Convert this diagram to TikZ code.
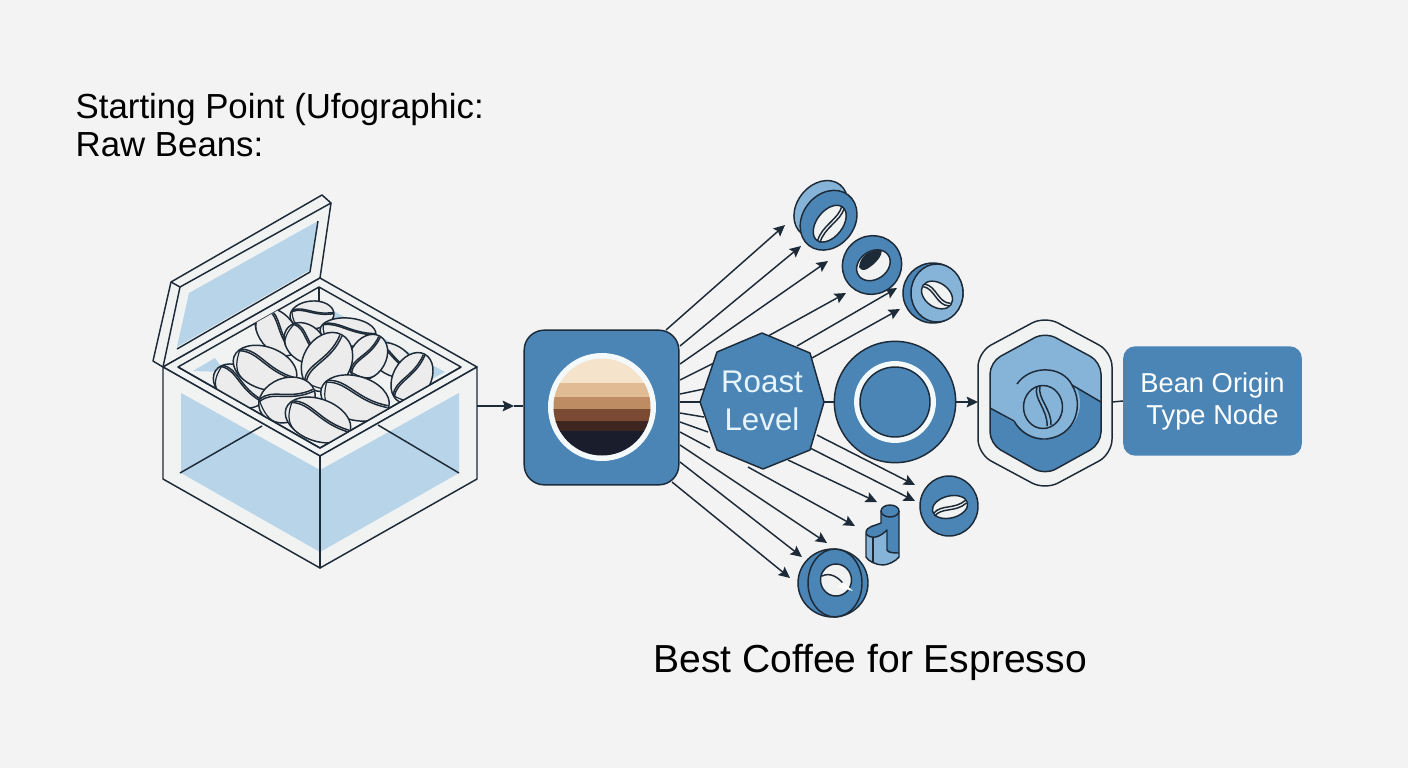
\documentclass[tikz,border=0pt]{standalone}
\usepackage{fontspec}
\setmainfont{Liberation Sans}
\usetikzlibrary{arrows.meta}
\definecolor{paper}{HTML}{F3F3F3}
\definecolor{ink}{HTML}{1D2A38}
\definecolor{nodeblue}{HTML}{4A85B6}
\definecolor{midblue}{HTML}{86B4D8}
\definecolor{paleblue}{HTML}{B7D4E8}
\definecolor{rim}{HTML}{F1F2F2}
\definecolor{beanfill}{HTML}{ECECEC}
\tikzset{
  flow/.style={draw=ink,line width=1.1pt,-{Stealth[length=8.5pt,width=8pt,inset=1.5pt]}},
  stub/.style={draw=ink,line width=1.1pt},
  edge/.style={draw=ink,line width=1.1pt,line join=round},
  bluebox/.style={draw=ink,line width=1.1pt,fill=nodeblue,rounded corners=15pt,minimum width=116pt,minimum height=116pt},
  labelbox/.style={fill=nodeblue,rounded corners=9pt,minimum width=134pt,minimum height=82pt,text=white,align=center,font=\fontsize{20.5}{24}\selectfont},
  heading/.style={anchor=west,text=black,align=left,font=\fontsize{26.1}{19}\selectfont},
}
% x y angle half-length half-width
\newcommand{\coffeebean}[5]{
\begin{scope}[shift={(#1,#2)},rotate=#3]
\draw [edge,fill=beanfill] (0,0) ellipse (#4 and #5);
\draw [edge] (-0.88*#4,-0.45*#5) .. controls (-0.35*#4,-0.75*#5) and (0.05*#4,0.05*#5) .. (0.96*#4,-0.05*#5);
\draw [edge] (-0.90*#4,-0.36*#5) .. controls (-0.35*#4,-0.64*#5) and (0.05*#4,0.14*#5) .. (0.97*#4,0.04*#5);
\draw [edge,line width=0.9pt] (-0.55*#4,0.83*#5) .. controls (-0.85*#4,0.6*#5) and (-0.9*#4,0.1*#5) .. (-0.9*#4,-0.4*#5);
\end{scope}
}
\begin{document}
\begin{tikzpicture}[x=0.75pt,y=0.75pt,yscale=-1,xscale=1]
\useasboundingbox (0,0) rectangle (1408,768);
\fill [paper] (0,0) rectangle (1408,768);
% titles
\node [heading] (title) at (71,125) {Starting Point (Ufographic:\\[4.5pt]Raw Beans:};
\node [anchor=center,text=black,font=\fontsize{29.3}{34}\selectfont] (best) at (870,662) {Best Coffee for Espresso};
% lid
\draw [edge,fill=rim] (153,361) -- (171,282) -- (322,195) -- (331,203) -- (320,278) -- (163,367) -- cycle;
\fill [paleblue] (189,293) -- (318,221) -- (310,270) -- (177,347) -- cycle;
\draw [edge] (171,282) -- (180,287) -- (331,203);
\draw [edge] (180,287) -- (163,367);
\draw [edge] (318,221) -- (310,272) -- (177,349);
% crate
\draw [edge,fill=rim] (163,367) -- (320,278) -- (477,367) -- (320,456) -- cycle;
\draw [edge,fill=rim] (178,367) -- (319,287) -- (461,367) -- (320,448) -- cycle;
\fill [paleblue] (319,303) -- (445,372) -- (430,380) -- (319,318) -- cycle;
\fill [paleblue] (193,371) -- (215,358) -- (225,372) -- cycle;
\draw [edge] (319,287) -- (319,305);
% beans, back to front
\begin{scope}
\clip (178,367) -- (319,287) -- (461,367) -- (320,448) -- cycle;
\coffeebean{312}{315}{-5}{22}{14}
\coffeebean{392}{360}{30}{24}{15}
\coffeebean{348}{332}{5}{28}{14}
\coffeebean{277}{332}{52}{27}{18}
\coffeebean{368}{357}{-60}{24}{18}
\coffeebean{305}{343}{42}{23}{18}
\coffeebean{239}{386}{33}{28}{19}
\coffeebean{265}{368}{20}{33}{21}
\coffeebean{412}{378}{-62}{27}{19}
\coffeebean{327}{362}{-62}{31}{24}
\coffeebean{287}{400}{-20}{29}{22}
\coffeebean{355}{398}{15}{35}{22}
\coffeebean{318}{420}{20}{34}{21}
\end{scope}
\draw [edge] (178,367) -- (320,448) -- (461,367);
% crate faces
\draw [edge,fill=rim] (163,367) -- (320,456) -- (320,568) -- (163,479) -- cycle;
\draw [edge,fill=rim] (477,367) -- (320,456) -- (320,568) -- (477,479) -- cycle;
\fill [paleblue] (181,393) -- (320,470) -- (320,552) -- (181,473) -- cycle;
\fill [paleblue] (459,393) -- (320,470) -- (320,552) -- (459,473) -- cycle;
\draw [edge] (320,456) -- (320,568);
\draw [edge] (180,473) -- (262,426);
\draw [edge] (378,425) -- (459,473);
\coordinate (crate) at (477,406);
\coordinate (mid) at (514,406);
% connector ends
\coordinate (s1) at (666,330);
\coordinate (s2) at (680,346);
\coordinate (s3) at (680,364);
\coordinate (s4) at (680,380);
\coordinate (s5) at (680,394);
\coordinate (s6) at (680,402);
\coordinate (s7) at (680,413);
\coordinate (s8) at (680,422);
\coordinate (s9) at (680,432);
\coordinate (s10) at (680,445);
\coordinate (s11) at (680,462);
\coordinate (s12) at (672,482);
\coordinate (t1) at (785,225);
\coordinate (t2) at (801,246);
\coordinate (t3) at (828,261);
\coordinate (o4) at (770,335);
\coordinate (t4) at (846,293);
\coordinate (o5) at (704,389);
\coordinate (p5) at (797,346);
\coordinate (t5) at (897,288);
\coordinate (p6) at (812,358);
\coordinate (t6) at (900,309);
\coordinate (o6) at (701,402);
\coordinate (o7) at (704,417);
\coordinate (o8) at (708,432);
\coordinate (o9) at (710,448);
\coordinate (p1) at (817,435);
\coordinate (t7) at (915,485);
\coordinate (p2) at (810,448);
\coordinate (t8) at (915,501);
\coordinate (p3) at (788,460);
\coordinate (t9) at (877,502);
\coordinate (p4) at (748,467);
\coordinate (t10) at (855,526);
\coordinate (t11) at (827,543);
\coordinate (t12) at (802,557);
\coordinate (t13) at (790,578);
\draw [flow] (s1) -- (t1);
\draw [flow] (s2) -- (t2);
\draw [flow] (s3) -- (t3);
\draw [stub] (s4) -- (o4);
\draw [flow] (o4) -- (t4);
\draw [stub] (s5) -- (o5);
\draw [flow] (p5) -- (t5);
\draw [flow] (p6) -- (t6);
\draw [stub] (s6) -- (o6);
\draw [stub] (s7) -- (o7);
\draw [stub] (s8) -- (o8);
\draw [stub] (s9) -- (o9);
\draw [flow] (p1) -- (t7);
\draw [flow] (p2) -- (t8);
\draw [flow] (p3) -- (t9);
\draw [flow] (p4) -- (t10);
\draw [flow] (s10) -- (t11);
\draw [flow] (s11) -- (t12);
\draw [flow] (s12) -- (t13);
% roast card
\node [bluebox] (card) at (601.5,407.5) {};
\draw [flow] (crate) -- (mid);
\draw [stub] (mid) -- (mid -| card.west);
\fill [white!85!paleblue] (602,407) circle (54);
\begin{scope}
\clip (602,407) circle (48.5);
\fill [color={rgb,255:red,245;green,227;blue,203}] (550,355) rectangle (655,384);
\fill [color={rgb,255:red,224;green,187;blue,148}] (550,383) rectangle (655,398);
\fill [color={rgb,255:red,189;green,140;blue,99}] (550,397) rectangle (655,410);
\fill [color={rgb,255:red,122;green,74;blue,51}] (550,409) rectangle (655,422);
\fill [color={rgb,255:red,62;green,38;blue,32}] (550,421) rectangle (655,432);
\fill [color={rgb,255:red,26;green,29;blue,43}] (550,431) rectangle (655,460);
\end{scope}
% roast level
\draw [edge,fill=nodeblue] (762,333) -- (810,353) -- (824,402) -- (810,450) -- (763,469) -- (717,450) -- (700,402) -- (717,352) -- cycle;
\node [text={rgb,255:red,232;green,244;blue,251},align=center,font=\fontsize{23.5}{28}\selectfont] (roast) at (762,401) {Roast\\Level};
\coordinate (roastr) at (824,402);
% ring
\node [circle,draw=ink,line width=1.1pt,fill=nodeblue,minimum size=91pt,inner sep=0pt] (ring) at (895,402) {};
\draw [edge] (roastr) -- (ring.west);
\draw [draw=white!85!paleblue,line width=4.4pt] (895,402) circle (38);
\draw [edge] (895,402) circle (35);
% hexagon
\draw [edge,fill=rim,rounded corners=11pt] (1045,316) -- (1112,352) -- (1112,454) -- (1045,490) -- (978,454) -- (978,352) -- cycle;
\coordinate (hexl) at (978,402);
\coordinate (hexr) at (1112,402);
\draw [flow] (ring.east) -- (hexl);
\begin{scope}
\clip [rounded corners=9pt] (1045,332) -- (1101,362) -- (1101,444) -- (1045,475) -- (990,444) -- (990,362) -- cycle;
\fill [midblue] (980,320) rectangle (1110,480);
\fill [nodeblue] (990,408) -- (1013,422) -- (1045,440) -- (1078,403) -- (1072,385) -- (1101,402) -- (1110,480) -- (980,480) -- (980,402) -- cycle;
\fill [midblue] (1045,403) circle (35);
\draw [edge] (990,408) -- (1014,421);
\draw [edge] (1072,385) -- (1101,402);
\end{scope}
\draw [edge,rounded corners=9pt] (1045,332) -- (1101,362) -- (1101,444) -- (1045,475) -- (990,444) -- (990,362) -- cycle;
\draw [edge] (1017,384) .. controls (1030,365) and (1062,365) .. (1072,385) .. controls (1084,405) and (1076,436) .. (1046,439) .. controls (1032,440) and (1020,432) .. (1014,421);
\draw [edge] (1043,407) ellipse (19.5 and 21.5);
\draw [edge] (1037,387) .. controls (1033,398) and (1048,410) .. (1047,426);
\draw [edge] (1040,386) .. controls (1037,398) and (1052,410) .. (1051,425);
% origin label
\node [labelbox] (origin) at (1212.5,401) {Bean Origin\hspace{22pt}\\Type Node\hspace{22pt}};
\draw [edge] (hexr) -- (origin.west);
% small discs around the arrows
\begin{scope}[shift={(827,219)},rotate=38]
\draw [edge,fill=midblue] (-11,-4) ellipse (24 and 31);
\draw [edge,fill=nodeblue] (2,0) ellipse (26 and 32);
\draw [edge,fill=rim] (5,2) ellipse (13 and 21);
\draw [edge] (4,-19) .. controls (9,-6) and (0,8) .. (6,23);
\draw [edge] (7,-19) .. controls (12,-6) and (3,8) .. (9,23);
\end{scope}
\begin{scope}[shift={(872,265)},rotate=-35]
\draw [edge,fill=nodeblue] (0,0) ellipse (30 and 29);
\draw [edge,fill=rim] (1,1) ellipse (18 and 14);
\end{scope}
\fill [ink] (859,267) .. controls (860,256) and (870,249) .. (882,250) .. controls (882,256) and (876,263) .. (870,267) .. controls (866,270) and (862,272) .. cycle;
\begin{scope}[shift={(933,293)}]
\draw [edge,fill=nodeblue] (0,0) circle (30);
\draw [edge,fill=midblue] (4,0) ellipse (26 and 29);
\begin{scope}[shift={(4,2)},rotate=35]
\draw [edge,fill=rim] (0,0) ellipse (17 and 12);
\draw [edge] (-16,-2) .. controls (-6,-7) and (6,6) .. (16,-1);
\draw [edge] (-16,1) .. controls (-6,-4) and (6,9) .. (16,2);
\end{scope}
\end{scope}
\begin{scope}[shift={(949,506)}]
\draw [edge,fill=nodeblue] (0,0) ellipse (29 and 30);
\begin{scope}[shift={(1,1)},rotate=-14]
\draw [edge,fill=rim] (0,0) ellipse (18 and 11);
\draw [edge] (-17,2) .. controls (-8,-5) and (4,4) .. (17,-3);
\draw [edge] (-17,5) .. controls (-8,-2) and (4,7) .. (17,0);
\end{scope}
\end{scope}
% grinder
\fill [nodeblue] (881,511) -- (881,523) .. controls (875,526) and (866,526) .. (866,533) -- (866,557) .. controls (868,561) and (876,565) .. (883,565) .. controls (888,565) and (896,561) .. (899,557) -- (899,511) -- cycle;
\fill [midblue] (866,534) .. controls (872,540) and (880,537) .. (887,530) -- (887,550) .. controls (888,553) and (895,553) .. (899,553) -- (899,557) .. controls (896,561) and (888,565) .. (883,565) .. controls (876,565) and (868,561) .. (866,557) -- cycle;
\draw [edge] (866,534) .. controls (872,540) and (880,537) .. (887,530) -- (887,550) .. controls (888,553) and (895,553) .. (899,553);
\draw [edge] (873,537) -- (873,563);
\draw [edge] (881,511) -- (881,523) .. controls (875,526) and (866,526) .. (866,533) -- (866,557) .. controls (868,561) and (876,565) .. (883,565) .. controls (888,565) and (896,561) .. (899,557) -- (899,511);
\draw [edge,fill=nodeblue] (890,511) ellipse (9 and 6);
% bottom disc
\begin{scope}[shift={(833,583)}]
\draw [edge,fill=nodeblue] (0,0) ellipse (35 and 34);
\draw [edge] (2,0) ellipse (27 and 34);
\draw [edge,fill=rim] (3,-3) ellipse (15.5 and 16);
\draw [edge] (-11,-7) .. controls (-3,-11) and (6,-6) .. (12,3);
\fill [white] (10,-1) -- (20,8) -- (5,4) -- cycle;
\end{scope}
\end{tikzpicture}
\end{document}
